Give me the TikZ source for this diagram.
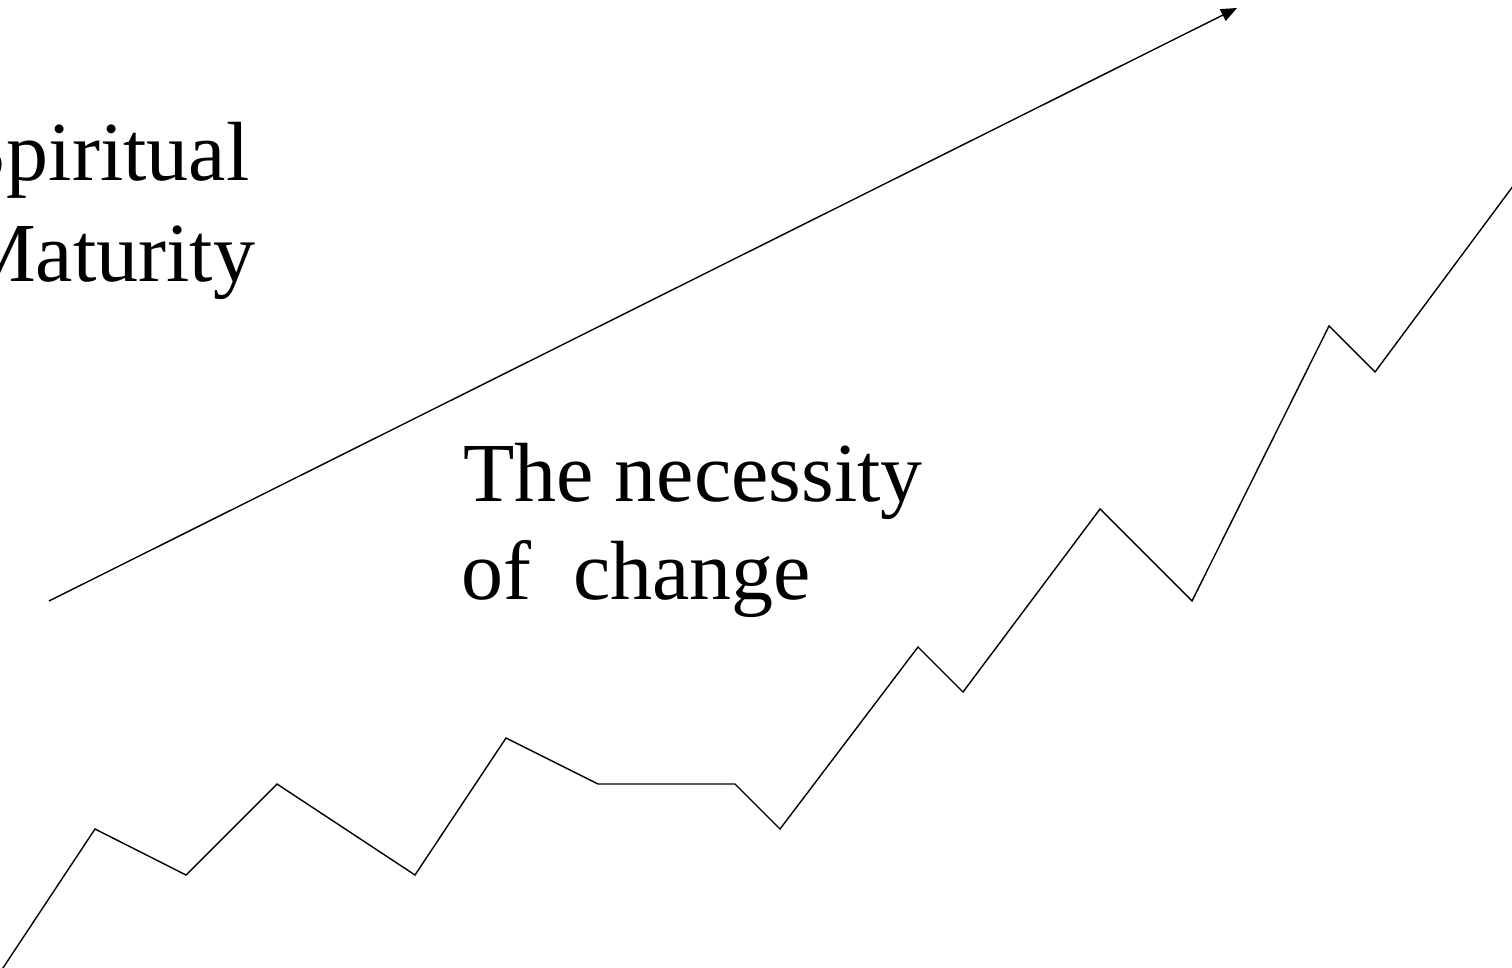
\documentclass[tikz,border=0pt]{standalone}
\usepackage{fontspec}
\setmainfont{Liberation Serif}
\usetikzlibrary{arrows.meta}
\begin{document}
\begin{tikzpicture}[x=1pt,y=-1pt,
  lbl/.style={anchor=base west,inner sep=0pt,font=\fontsize{84}{100}\selectfont},
  trend/.style={line width=1.4pt,line join=miter}]
\useasboundingbox (0,0) rectangle (1512,968);
\clip (0,0) rectangle (1512,968);
% labels
\node[lbl] (sp1) at (-40,181) {Spiritual};
\node[lbl] (sp2) at (-39,281) {Maturity};
\node[lbl] (nc1) at (463,501) {The necessity};
\node[lbl] (nc2) at (461,599) {of\ \ change};
% arrow
\coordinate (a0) at (49,601);
\coordinate (a1) at (1237,8);
\draw[trend,-{Triangle[length=16pt,width=13pt]}] (a0) -- (a1);
% zigzag
\coordinate (z0) at (-5,980);
\coordinate (z1) at (95,829);
\coordinate (z2) at (186,875);
\coordinate (z3) at (277,784);
\coordinate (z4) at (415,875);
\coordinate (z5) at (506,738);
\coordinate (z6) at (598,784);
\coordinate (z7) at (735,784);
\coordinate (z8) at (780,829);
\coordinate (z9) at (918,647);
\coordinate (z10) at (963,692);
\coordinate (z11) at (1100,509);
\coordinate (z12) at (1192,601);
\coordinate (z13) at (1329,326);
\coordinate (z14) at (1375,372);
\coordinate (z15) at (1525,170);
\draw[trend] (z0) -- (z1) -- (z2) -- (z3) -- (z4) -- (z5) -- (z6) -- (z7) -- (z8) -- (z9) -- (z10) -- (z11) -- (z12) -- (z13) -- (z14) -- (z15);
\end{tikzpicture}
\end{document}
